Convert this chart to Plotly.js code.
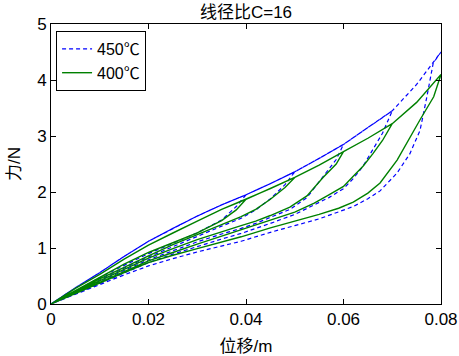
<!DOCTYPE html>
<html>
<head>
<meta charset="utf-8">
<script src="https://cdn.plot.ly/plotly-3.0.1.min.js"></script>
<style>html,body{margin:0;padding:0;background:#fff;}#chart{width:459px;height:356px;}</style>
</head>
<body>
<div id="chart"></div>
<script>
// Loading envelope (shared x)
const envX = [0,0.005,0.01,0.015,0.02,0.025,0.03,0.035,0.04,0.045,0.05,0.055,0.06,0.065,0.07,0.075,0.08];
const env400 = [0,0.28,0.53,0.8,1.05,1.27,1.48,1.69,1.87,2.06,2.26,2.48,2.72,2.96,3.22,3.6,4.1];
const env450 = [0,0.29,0.56,0.85,1.12,1.35,1.57,1.77,1.95,2.15,2.36,2.6,2.85,3.15,3.45,3.92,4.5];
const peaks = [0.04,0.05,0.06,0.07,0.08];

// Unloading branches
const u04X = [0.04,0.038,0.035,0.03,0.025,0.02,0.015,0.01,0.005,0];
const u05X = [0.05,0.048,0.045,0.042,0.039,0.035,0.03,0.025,0.02,0.015,0.01,0.005,0];
const u06X = [0.06,0.0585,0.0558,0.0525,0.049,0.045,0.042,0.039,0.035,0.03,0.025,0.02,0.015,0.01,0.005,0];
const u07X = [0.07,0.068,0.066,0.064,0.062,0.06,0.057,0.054,0.05,0.045,0.039,0.035,0.03,0.025,0.02,0.015,0.01,0.005,0];
const u08X = [0.08,0.0785,0.0757,0.0735,0.071,0.0675,0.065,0.062,0.059,0.055,0.05,0.045,0.039,0.035,0.03,0.025,0.02,0.015,0.01,0.005,0];
const b08X = [0.08,0.0784,0.0771,0.0757,0.0736,0.071,0.0675,0.065,0.062,0.059,0.055,0.05,0.045,0.039,0.035,0.03,0.025,0.02,0.015,0.01,0.005,0];

const g04 = [1.87,1.68,1.49,1.27,1.1,0.92,0.71,0.48,0.24,0];
const g05 = [2.26,2.08,1.87,1.69,1.56,1.42,1.24,1.06,0.86,0.66,0.45,0.22,0];
const g06 = [2.72,2.5,2.26,1.93,1.73,1.58,1.48,1.4,1.29,1.15,0.99,0.82,0.62,0.42,0.21,0];
const g07 = [3.22,2.92,2.68,2.46,2.28,2.1,1.95,1.8,1.64,1.5,1.32,1.22,1.07,0.92,0.77,0.58,0.39,0.19,0];
const g08 = [4.1,3.7,3.29,2.95,2.57,2.16,1.98,1.82,1.71,1.6,1.48,1.36,1.2,1.11,0.99,0.87,0.74,0.56,0.37,0.18,0];

const b04 = [1.95,1.74,1.5,1.27,1.08,0.9,0.69,0.47,0.23,0];
const b05 = [2.36,2.13,1.88,1.68,1.53,1.39,1.21,1.03,0.84,0.64,0.43,0.21,0];
const b06 = [2.85,2.58,2.27,1.9,1.69,1.54,1.44,1.35,1.25,1.11,0.95,0.79,0.6,0.4,0.2,0];
const b07 = [3.45,3.05,2.75,2.46,2.24,2.06,1.9,1.77,1.6,1.44,1.26,1.16,1.03,0.89,0.74,0.56,0.37,0.18,0];
const b08 = [4.5,4.3,3.7,3.1,2.68,2.34,2.02,1.88,1.74,1.64,1.52,1.4,1.28,1.12,1.04,0.93,0.81,0.68,0.52,0.35,0.17,0];

function buildLoops(env, unloadXs, unloadYs) {
  const xs = [], ys = [];
  peaks.forEach((p, i) => {
    for (let k = 0; k < envX.length; k++) {
      if (envX[k] <= p + 1e-9) { xs.push(envX[k]); ys.push(env[k]); }
    }
    const ux = unloadXs[i], uy = unloadYs[i];
    for (let k = 1; k < ux.length; k++) { xs.push(ux[k]); ys.push(uy[k]); }
  });
  return {x: xs, y: ys};
}

const s450 = buildLoops(env450, [u04X,u05X,u06X,u07X,b08X], [b04,b05,b06,b07,b08]);
const s400 = buildLoops(env400, [u04X,u05X,u06X,u07X,u08X], [g04,g05,g06,g07,g08]);

const FONT = 'Liberation Sans, Arial, Noto Sans CJK SC, sans-serif';

const traces = [
  {x: s450.x, y: s450.y, mode: 'lines', name: '450℃',
   line: {color: '#0000ff', width: 1.2, dash: '4px,3px'}},
  {x: s400.x, y: s400.y, mode: 'lines', name: '400℃',
   line: {color: '#008000', width: 1.4}}
];

const axisCommon = {
  showline: true, mirror: 'ticks', linecolor: '#000', linewidth: 1,
  ticks: 'inside', ticklen: 5, tickcolor: '#000', tickwidth: 1,
  showgrid: false, zeroline: false,
  tickfont: {family: FONT, size: 17, color: '#000'}
};

const layout = {
  width: 459, height: 356,
  margin: {l: 51, r: 18, t: 24, b: 52},
  paper_bgcolor: '#fff', plot_bgcolor: '#fff',
  title: {text: '线径比C=16', font: {family: FONT, size: 17, color: '#000'},
          x: 0.536, xanchor: 'center', y: 0.965, yanchor: 'middle'},
  xaxis: Object.assign({}, axisCommon, {
    range: [0, 0.08], tickvals: [0,0.02,0.04,0.06,0.08], ticktext: ['0','0.02','0.04','0.06','0.08'],
    title: {text: '位移/m', font: {family: FONT, size: 17, color: '#000'}, standoff: 13}
  }),
  yaxis: Object.assign({}, axisCommon, {
    range: [0, 5], tickvals: [0,1,2,3,4,5], ticktext: ['0','1','2','3','4','5'],
    title: {text: '力/N', font: {family: FONT, size: 17, color: '#000'}, standoff: 12}
  }),
  showlegend: true,
  legend: {x: 0.013, y: 0.975, xanchor: 'left', yanchor: 'top',
           bgcolor: '#fff', bordercolor: '#000', borderwidth: 1,
           font: {family: FONT, size: 16, color: '#000'},
           tracegroupgap: 0, itemwidth: 30}
};

Plotly.newPlot('chart', traces, layout, {displayModeBar: false, staticPlot: true});
</script>
</body>
</html>
